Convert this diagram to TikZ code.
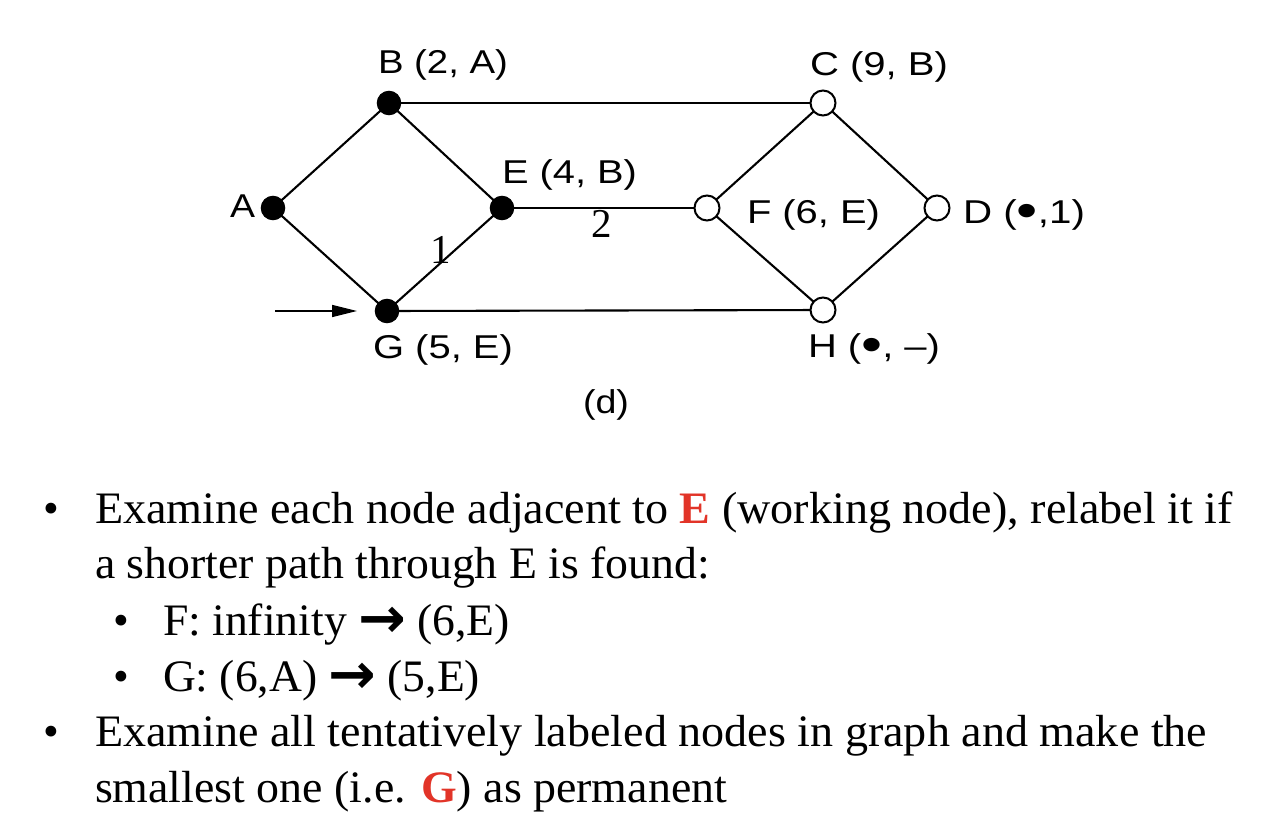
\documentclass[tikz,border=0pt]{standalone}
\usepackage{fontspec}
\usepackage{graphicx}
\setmainfont{Liberation Serif}
\newfontfamily\lsans{Liberation Sans}
\newfontfamily\djv{DejaVu Sans}
\usetikzlibrary{arrows.meta}
\definecolor{hlred}{RGB}{226,52,40}
\newcommand\fitw[2]{\resizebox{#1pt}{\height}{#2}}
\newcommand\bigbul{\raisebox{-4pt}{\scalebox{1.5}{•}}}
\newcommand\arr{\raisebox{-2pt}{\scalebox{1.25}{\djv\bfseries →}}}
\begin{document}
\begin{tikzpicture}[x=1pt,y=-1pt,
  every node/.style={inner sep=0pt,outer sep=0pt},
  vfull/.style={circle,draw,fill=black,minimum size=23pt,line width=1.5pt},
  vopen/.style={circle,draw,fill=white,minimum size=25pt,line width=2pt},
  edge/.style={line width=2.1pt},
  glabel/.style={anchor=base west,font=\lsans\fontsize{33}{33}\selectfont},
  wlabel/.style={anchor=base,font=\fontsize{41}{41}\selectfont},
  btext/.style={anchor=base west,font=\fontsize{45}{45}\selectfont}]
\useasboundingbox[fill=white] (0,0) rectangle (1278,838);

\node[vfull] (A) at (273,208) {};
\node[vfull] (B) at (389,103) {};
\node[vfull] (E) at (502,208) {};
\node[vfull] (G) at (387,311) {};
\node[vopen] (C) at (823,103) {};
\node[vopen] (F) at (707,208) {};
\node[vopen] (D) at (937,208) {};
\node[vopen] (H) at (823,310) {};

\draw[edge] (A) -- (B);
\draw[edge] (A) -- (G);
\draw[edge] (B) -- (E);
\draw[edge] (G) -- (E);
\draw[edge] (B) -- (C);
\draw[edge] (E) -- (F);
\draw[edge] (G) -- (H);
\draw[edge] (F) -- (C);
\draw[edge] (F) -- (H);
\draw[edge] (C) -- (D);
\draw[edge] (H) -- (D);

\coordinate (in0) at (275,311);
\coordinate (in1) at (357,311);
\draw[line width=1.7pt,-{Triangle[length=25pt,width=12pt]}] (in0) -- (in1);

\node[glabel] (lB) at (378,73) {\fitw{130}{B (2, A)}};
\node[glabel] (lC) at (810,75) {\fitw{138}{C (9, B)}};
\node[glabel] (lE) at (502,183) {\fitw{135}{E (4, B)}};
\node[glabel] (lA) at (230,217) {\fitw{25}{A}};
\node[glabel] (lF) at (747,223) {\fitw{133}{F (6, E)}};
\node[glabel] (lD) at (963,223) {\fitw{122}{D (\bigbul,1)}};
\node[glabel] (lG) at (373,358) {\fitw{140}{G (5, E)}};
\node[glabel] (lH) at (808,357) {\fitw{132}{H (\bigbul, –)}};
\node[glabel] (ld) at (583,413) {\fitw{46}{(d)}};

\node[wlabel] (w1) at (441,263) {1};
\node[wlabel] (w2) at (602,237) {2};

\node[btext] (b1) at (43,523) {•};
\node[btext] (t1) at (95,523) {\fitw{1138}{Examine each node adjacent to \textcolor{hlred}{\textbf{E}} (working node), relabel it if}};
\node[btext] (t2) at (95,578) {\fitw{615}{a shorter path through E is found:}};
\node[btext] (s1) at (113,635) {•};
\node[btext] (t3) at (163,635) {\fitw{347}{F: infinity \arr{} (6,E)}};
\node[btext] (s2) at (113,691) {•};
\node[btext] (t4) at (163,691) {\fitw{317}{G: (6,A) \arr{} (5,E)}};
\node[btext] (b2) at (43,746) {•};
\node[btext] (t5) at (95,746) {\fitw{1112}{Examine all tentatively labeled nodes in graph and make the}};
\node[btext] (t6) at (95,802) {\fitw{632}{smallest one (i.e. \textcolor{hlred}{\textbf{G}}) as permanent}};
\end{tikzpicture}
\end{document}
